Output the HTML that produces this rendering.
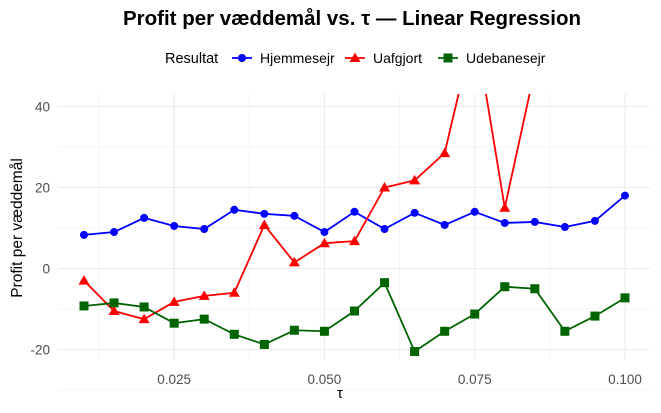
<!DOCTYPE html>
<html><head><meta charset="utf-8"><style>
body{margin:0;background:#fff;font-family:"Liberation Sans",sans-serif;}
svg text{font-family:"Liberation Sans",sans-serif;}
</style></head><body>
<svg width="661" height="408" xmlns="http://www.w3.org/2000/svg">
<defs><clipPath id="pc"><rect x="58" y="94" width="592" height="266"/></clipPath></defs>
<text x="352" y="25" text-anchor="middle" font-size="20.5" font-weight="bold" fill="#000">Profit per væddemål vs. τ — Linear Regression</text>
<g id="legend"></g>
<g id="grid"></g>
<g id="series" clip-path="url(#pc)"></g>
<g id="axes"></g>
<text x="340" y="398" text-anchor="middle" font-size="15" fill="#000">τ</text>
<text transform="translate(22,228) rotate(-90)" text-anchor="middle" font-size="15.5" fill="#000">Profit per væddemål</text>
</svg>
<script>
const taus=[0.01,0.015,0.02,0.025,0.03,0.035,0.04,0.045,0.05,0.055,0.06,0.065,0.07,0.075,0.08,0.085,0.09,0.095,0.1];
const home=[8.3,9,12.5,10.5,9.75,14.5,13.5,13,9,14,9.75,13.75,10.75,14,11.25,11.5,10.25,11.75,18];
const draw=[-3,-10.5,-12.5,-8.25,-6.75,-6,10.75,1.5,6.25,6.75,20,21.75,28.5,60,15,49,70,75,80];
const away=[-9.25,-8.5,-9.5,-13.5,-12.5,-16.25,-18.75,-15.25,-15.5,-10.5,-3.5,-20.5,-15.5,-11.25,-4.5,-5,-15.5,-11.75,-7.25];
const xTicks=[0.025,0.05,0.075,0.1];
const xTickLabels=["0.025","0.050","0.075","0.100"];
const yTicks=[-20,0,20,40];
const ns="http://www.w3.org/2000/svg";
const X=t=>84+(t-0.01)*6011;
const Y=v=>268.5-v*4.05;
function mk(tag,attrs,parent){const e=document.createElementNS(ns,tag);for(const k in attrs)e.setAttribute(k,attrs[k]);parent.appendChild(e);return e;}
const grid=document.getElementById('grid'),axes=document.getElementById('axes'),ser=document.getElementById('series'),leg=document.getElementById('legend');
for(let i=0;i<xTicks.length+1;i++){const t=xTicks[0]-0.0125+i*0.025;const g=mk('line',{x1:X(t),x2:X(t),y1:94,y2:360,stroke:'#f0f0f0','stroke-width':0.7},grid);}
for(let v=-30;v<=40;v+=20){const g=mk('line',{x1:58,x2:650,y1:Y(v),y2:Y(v),stroke:'#f0f0f0','stroke-width':0.7},grid);}
xTicks.forEach((t,i)=>{const g=mk('line',{x1:X(t),x2:X(t),y1:94,y2:360,stroke:'#ebebeb','stroke-width':1.1},grid);
const tx=mk('text',{x:X(t),y:384,'text-anchor':'middle','font-size':13.5,fill:'#4d4d4d'},axes);tx.textContent=xTickLabels[i];});
yTicks.forEach(v=>{const g=mk('line',{x1:58,x2:650,y1:Y(v),y2:Y(v),stroke:'#ebebeb','stroke-width':1.1},grid);
const tx=mk('text',{x:50,y:Y(v)+5,'text-anchor':'end','font-size':13.5,fill:'#4d4d4d'},axes);tx.textContent=String(v);});
function marker(shape,x,y,c,p){let e;
if(shape==='circle')e=mk('circle',{cx:x,cy:y,r:4,fill:c},p);
else if(shape==='tri')e=mk('polygon',{points:`${x},${y-5.5} ${x-5.5},${y+4} ${x+5.5},${y+4}`,fill:c},p);
else e=mk('rect',{x:x-4.5,y:y-4.5,width:9,height:9,fill:c},p);return e;}
const S=[[home,'#0000ff','circle','Hjemmesejr'],[draw,'#ff0000','tri','Uafgjort'],[away,'#006400','square','Udebanesejr']];
S.forEach(([vals,c,sh,name])=>{
const pl=mk('polyline',{points:vals.map((v,i)=>X(taus[i])+','+Y(v)).join(' '),fill:'none',stroke:c,'stroke-width':1.8},ser);

vals.forEach((v,i)=>{const m=marker(sh,X(taus[i]),Y(v),c,ser);});});
const lt=mk('text',{x:165,y:63,'font-size':14.5,fill:'#000'},leg);lt.textContent='Resultat';
const lx=[232,345,438];
S.forEach(([vals,c,sh,name],i)=>{const g=mk('g',{},leg);
mk('line',{x1:lx[i],x2:lx[i]+20,y1:58,y2:58,stroke:c,'stroke-width':1.8},g);marker(sh,lx[i]+10,58,c,g);
const t=mk('text',{x:lx[i]+28,y:63,'font-size':14,fill:'#000'},g);t.textContent=name;});
</script>
</body></html>
